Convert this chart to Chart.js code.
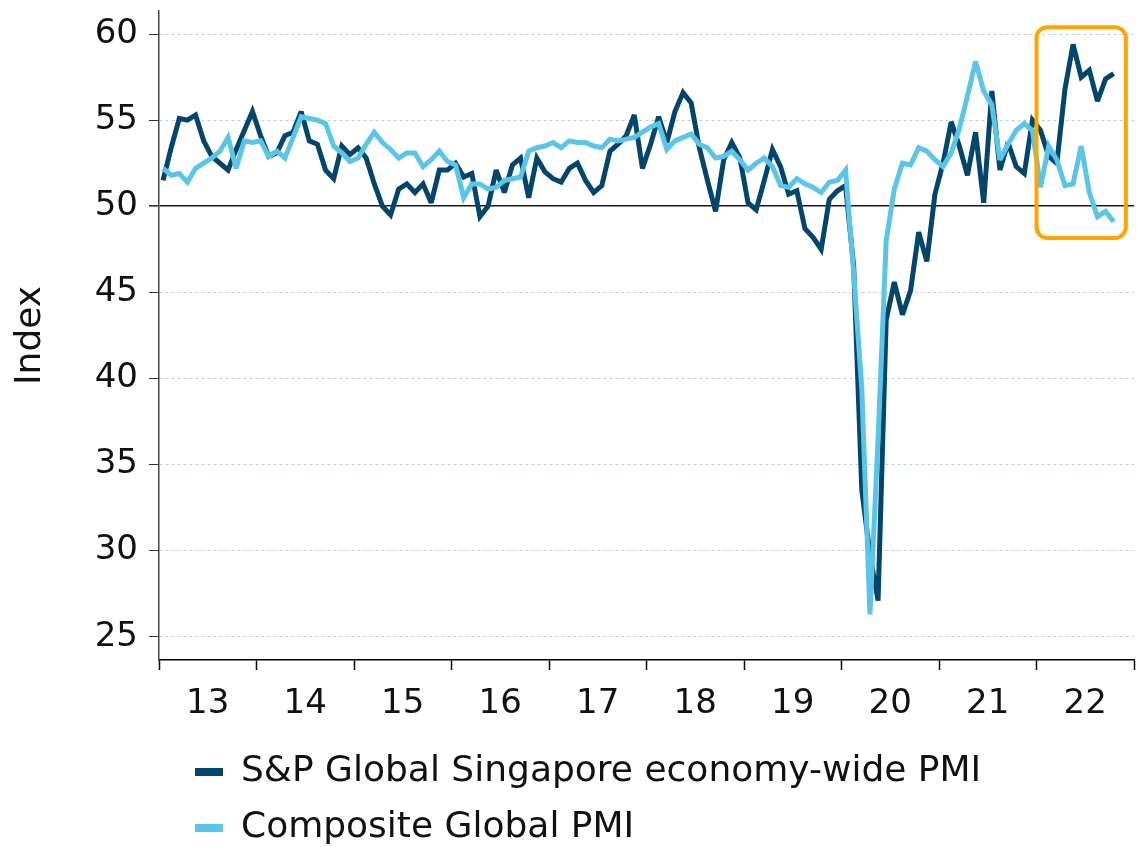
<!doctype html>
<html lang="en">
<head>
    <meta charset="utf-8">
    <script src="https://cdn.jsdelivr.net/npm/chart.js"></script>
    <style>
        html, body { margin: 0; padding: 0; background: #fff; }
    </style>
</head>
<body>
    <canvas id="myChart" width="1138" height="847"></canvas>
    <script>
        // monthly readings, Jan 2013 .. Oct 2022
        const yearLabels = ['13', '14', '15', '16', '17', '18', '19', '20', '21', '22'];
        const yTicks = [25, 30, 35, 40, 45, 50, 55, 60];

        const singapore = [
            51.5, 53.4, 55.1, 55.0, 55.3, 53.8, 52.9, 52.5, 52.1, 53.3, 54.4, 55.5,
            54.1, 52.9, 53.1, 54.1, 54.3, 55.5, 53.8, 53.6, 52.1, 51.6, 53.5, 53.0,
            53.4, 52.8, 51.3, 50.0, 49.5, 51.0, 51.3, 50.8, 51.3, 50.2, 52.1, 52.1,
            52.5, 51.7, 51.9, 49.4, 50.0, 52.1, 50.8, 52.4, 52.8, 50.5, 52.8, 52.0,
            51.6, 51.4, 52.2, 52.5, 51.5, 50.8, 51.2, 53.2, 53.6, 54.1, 55.3, 52.2,
            53.6, 55.2, 53.7, 55.5, 56.6, 56.0, 53.4, 51.5, 49.7, 52.7, 53.7, 52.8,
            50.2, 49.8, 51.5, 53.3, 52.3, 50.7, 50.9, 48.7, 48.2, 47.5, 50.4, 50.9,
            51.2, 46.5, 33.5, 29.8, 27.1, 43.4, 45.6, 43.7, 45.1, 48.5, 46.8, 50.7,
            52.5, 54.9, 53.5, 51.8, 54.3, 50.2, 56.7, 52.1, 53.7, 52.3, 51.9, 55.0,
            54.4, 52.9, 52.5, 56.8, 59.4, 57.5, 57.9, 56.1, 57.4, 57.7
        ];
        const composite = [
            52.2, 51.8, 51.9, 51.4, 52.2, 52.5, 52.8, 53.2, 54.0, 52.2, 53.8, 53.7,
            53.8, 52.9, 53.2, 52.8, 54.0, 55.2, 55.1, 55.0, 54.8, 53.5, 53.1, 52.6,
            52.8, 53.6, 54.3, 53.7, 53.3, 52.8, 53.1, 53.1, 52.3, 52.7, 53.2, 52.6,
            52.4, 50.5, 51.3, 51.3, 51.0, 51.1, 51.5, 51.6, 51.7, 53.2, 53.4, 53.5,
            53.7, 53.4, 53.8, 53.7, 53.7, 53.5, 53.4, 53.9, 53.8, 53.9, 54.0, 54.3,
            54.6, 54.8, 53.3, 53.8, 54.0, 54.2, 53.6, 53.4, 52.8, 52.9, 53.2, 52.7,
            52.1, 52.5, 52.8, 52.3, 51.2, 51.1, 51.6, 51.3, 51.1, 50.8, 51.4, 51.5,
            52.1, 46.1, 39.4, 26.3, 36.5, 48.0, 51.0, 52.5, 52.4, 53.4, 53.2, 52.7,
            52.3, 53.1, 54.5, 56.4, 58.4, 56.7, 55.9, 52.7, 53.6, 54.4, 54.8, 54.4,
            51.1, 53.5, 52.7, 51.2, 51.3, 53.5, 50.8, 49.4, 49.7, 49.1
        ];

        // highlighted window (months since Jan 2013, index value)
        const highlight = { xMin: 108, xMax: 119, yMin: 48.15, yMax: 60.4 };

        Chart.defaults.font.family = "'DejaVu Sans', Verdana, sans-serif";
        Chart.defaults.color = '#111';

        const boxPlugin = {
            id: 'highlightBox',
            beforeDatasetsDraw(chart) {
                // keep sharp corners from shooting far past the data
                chart.ctx.save();
                chart.ctx.miterLimit = 3;
            },
            afterDatasetsDraw(chart) {
                chart.ctx.restore();
                const { ctx, scales: { x, y } } = chart;
                const l = x.getPixelForValue(highlight.xMin);
                const r = x.getPixelForValue(highlight.xMax);
                const t = y.getPixelForValue(highlight.yMax);
                const b = y.getPixelForValue(highlight.yMin);
                ctx.save();
                ctx.strokeStyle = '#FFA500';
                ctx.lineWidth = 4;
                ctx.beginPath();
                ctx.roundRect(l, t, r - l, b - t, 11);
                ctx.stroke();
                ctx.restore();
            }
        };

        // legend sits left-aligned under the axis, like the original
        const legendPlace = {
            id: 'legendPlace',
            afterLayout(chart) {
                chart.legend.left = 175;
                chart.legend.top = 734;
            }
        };

        const toPoints = arr => arr.map((v, i) => ({ x: i + 0.5, y: v }));

        const config = {
            type: 'line',
            data: {
                datasets: [{
                    label: 'S&P Global Singapore economy-wide PMI',
                    data: toPoints(singapore),
                    borderColor: '#04456b',
                    backgroundColor: '#04456b',
                    borderWidth: 5,
                    pointRadius: 0,
                    tension: 0,
                    order: 1
                },
                {
                    label: 'Composite Global PMI',
                    data: toPoints(composite),
                    borderColor: '#5bc5e7',
                    backgroundColor: '#5bc5e7',
                    borderWidth: 5,
                    pointRadius: 0,
                    tension: 0,
                    order: 0
                }]
            },
            options: {
                responsive: false,
                animation: false,
                layout: { padding: { top: 11, right: 4, left: 0, bottom: 0 } },
                plugins: {
                    tooltip: { enabled: false },
                    legend: {
                        position: 'bottom',
                        align: 'start',
                        labels: {
                            font: { size: 36 },
                            color: '#111',
                            boxWidth: 28,
                            boxHeight: 8,
                            padding: 20,
                            sort: (a, b) => a.datasetIndex - b.datasetIndex,
                            generateLabels: chart =>
                                Chart.defaults.plugins.legend.labels.generateLabels(chart)
                                    .map(l => Object.assign(l, { lineWidth: 0, fillStyle: l.strokeStyle }))
                        }
                    }
                },
                scales: {
                    x: {
                        type: 'linear',
                        min: 0,
                        max: 120,
                        bounds: 'data',
                        afterBuildTicks: s => {
                            const t = [];
                            for (let v = 0; v <= 120; v += 6) t.push({ value: v });
                            s.ticks = t;
                        },
                        afterFit: s => { s.height = 65; s.paddingLeft = 0; s.paddingRight = 0; },
                        grid: {
                            drawOnChartArea: false,
                            tickLength: 10,
                            tickColor: '#000',
                            tickWidth: ctx => (ctx.tick && ctx.tick.value % 12 === 0) ? 1.5 : 0
                        },
                        border: { color: '#000', width: 1.5 },
                        ticks: {
                            autoSkip: false,
                            maxRotation: 0,
                            padding: 14,
                            font: { size: 34 },
                            color: '#111',
                            callback: v => (v % 12 === 6) ? yearLabels[(v - 6) / 12] : ''
                        }
                    },
                    y: {
                        min: 23.65,
                        max: 61.34,
                        bounds: 'data',
                        afterBuildTicks: s => { s.ticks = yTicks.map(v => ({ value: v })); },
                        afterFit: s => { s.width = 159; s.paddingTop = 0; s.paddingBottom = 0; },
                        grid: {
                            tickLength: 10,
                            tickColor: '#333',
                            color: ctx => (ctx.tick && ctx.tick.value === 50) ? '#1a1a1a' : '#bcd0d9',
                            lineWidth: ctx => (ctx.tick && ctx.tick.value === 50) ? 1.6 : 1
                        },
                        border: {
                            color: '#444',
                            width: 1.5,
                            dash: ctx => (ctx.tick && ctx.tick.value === 50) ? [] : [3, 3]
                        },
                        ticks: {
                            padding: 11,
                            font: { size: 34 },
                            color: '#111',
                            callback: v => v
                        },
                        title: {
                            display: true,
                            text: 'Index',
                            font: { size: 36 },
                            color: '#111',
                            padding: { top: 9, bottom: 0 }
                        }
                    }
                }
            },
            plugins: [boxPlugin, legendPlace]
        };

        const myChart = new Chart(document.getElementById('myChart'), config);
    </script>
</body>
</html>
